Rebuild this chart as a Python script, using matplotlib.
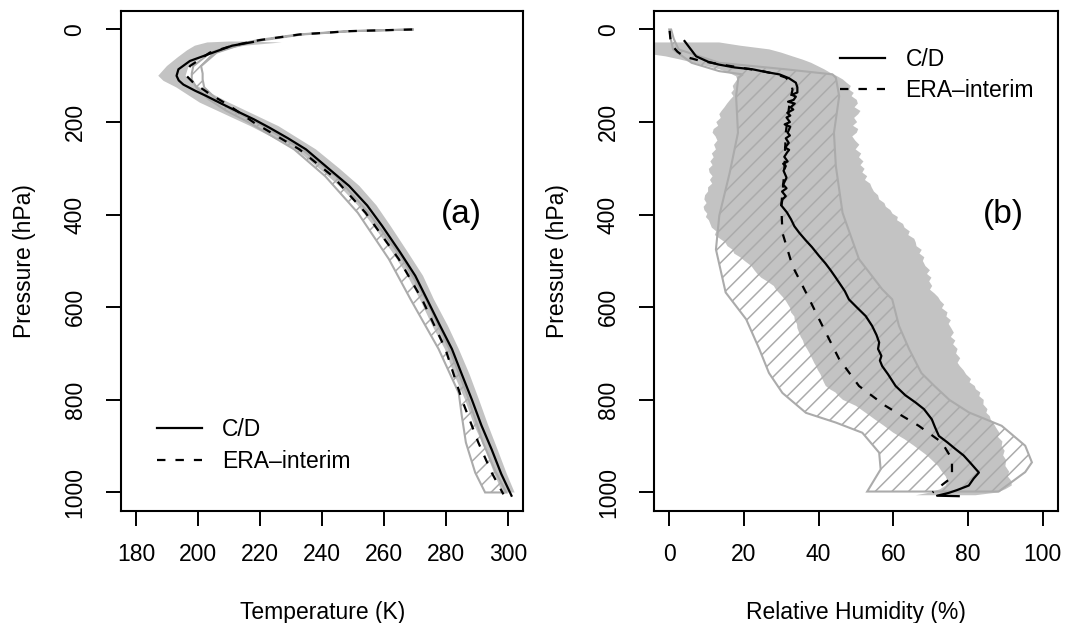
import numpy as np
import matplotlib.pyplot as plt

plt.rcParams.update({"font.family": ["Liberation Sans", "DejaVu Sans"]})
fontSize = 16.5
gray_fill = "#C3C3C3"
gray_line = "#ABABAB"
dash = (0, (3.8, 4.5))

# ---- panel (a): temperature profiles ----
cd_t_p = [27, 35, 47, 58, 68, 86, 100, 110, 119, 132, 144, 160, 176, 194,
          212, 235, 259, 300, 338, 380, 424, 480, 532, 583, 640, 690, 745,
          799, 855, 907, 960, 1007]
cd_t = [217.7, 211, 206, 201.5, 197.4, 193.7, 193.1, 193.8, 195.3, 199,
        202.8, 207.5, 212.4, 218, 223, 229, 234.8, 242, 248.7, 254.5, 259.3,
        265, 270, 273.8, 278, 281.8, 285, 288.2, 291.3, 294.6, 297.7, 301]

era_t_p = [0, 3.6, 10.8, 23, 34.5, 50, 79, 100, 115, 137, 165, 201, 259, 317,
           396, 496, 583, 690, 799, 892, 957, 1004]
era_t = [269, 248.7, 232.7, 219.8, 211.3, 203.8, 197.4, 196.3, 198.5, 203.3,
         210.2, 218, 232.7, 243.4, 254, 264.7, 272.2, 279.7, 285, 290.3,
         294.6, 298.4]

cd_t_band_p = [26, 28, 35, 45, 60, 79, 100, 111, 125, 158, 209, 259, 300,
               338, 380, 424, 480, 532, 583, 640, 690, 745, 799, 855, 907,
               960, 1000]
cd_t_lo = [210, 203, 199, 196.5, 193.5, 190, 187.2, 188.9, 193, 200.6, 217,
           231.5, 239, 245.5, 251.5, 256.5, 262.5, 267.5, 271.5, 275.5,
           279.5, 282.5, 286, 289, 292.5, 295.5, 298]
cd_t_hi = [214, 227, 215, 208, 201.5, 197, 196, 197.5, 200.5, 210, 226, 238,
           245.5, 252, 257.5, 262, 267.5, 272.5, 276, 280.5, 284, 287.5,
           290.5, 293.5, 296.5, 299.5, 302]

era_t_band_p = [0, 3.6, 10.8, 23, 34.5, 50, 79, 95, 108, 125, 151, 175, 201,
                259, 317, 396, 496, 583, 690, 785, 835, 892, 957, 1000]
era_t_lo = [268.5, 248.2, 232.2, 219.3, 211, 204, 198.5, 198, 198, 199.5,
            203.5, 209, 216.5, 231, 241, 251.5, 261.5, 268.5, 277.5, 284, 285,
            286.3, 289.3, 292.5]
era_t_hi = [269.5, 249.5, 233.5, 221, 213, 206, 201, 201.5, 201.5, 202, 206,
            211, 219, 233.5, 244.5, 255, 266, 273.5, 281, 286.5, 289, 291.8,
            296, 299.3]

# ---- panel (b): relative humidity profiles ----
cd_rh_p = [25, 40, 58, 70, 76, 82, 86, 92, 97, 105, 115, 125, 136, 141, 145,
           152, 156, 160, 168, 173, 180, 186, 190, 200, 205, 210, 223, 229,
           235, 245, 255, 260, 265, 275, 285, 290, 295, 305, 320, 335, 343,
           350, 360, 367, 380, 395, 410, 425, 439, 455, 470, 489, 505, 520,
           535, 547, 565, 583, 600, 619, 640, 660, 676, 690, 705, 715, 727,
           745, 770, 790, 806, 820, 842, 860, 878, 892, 906, 920, 935, 957,
           970, 985, 995, 1001, 1007, 1008]
cd_rh = [4.1, 5.5, 7.2, 10.5, 13.4, 17.5, 22.3, 26, 29.5, 32, 33.9, 34.3,
         34.3, 32.8, 33.9, 33.3, 31.8, 33.6, 32.5, 33.2, 31.6, 32.4, 31.4,
         32.3, 30.9, 32.4, 31.7, 32.3, 31.2, 32, 31, 32.1, 31.6, 30.8, 31.7,
         30.5, 31.2, 30.6, 31.4, 30.5, 31.4, 30.2, 31.2, 30.3, 30, 31.5, 32.6,
         33.5, 34.8, 36.5, 38.2, 40.1, 41.8, 43.2, 44.5, 45.5, 47, 48.1, 50.2,
         52.6, 54.3, 55.5, 56.2, 55.9, 56.8, 56.4, 57, 58.6, 60.6, 63.2, 66,
         68.2, 70.3, 71.2, 72.2, 74.5, 76.6, 78.8, 80.5, 82.9, 81.5, 80.2, 77,
         74.8, 71.7, 77.5]

era_rh_p = [3, 20, 36, 48, 58, 67, 75, 83, 90, 97, 104, 115, 130, 166, 223,
            309, 380, 439, 511, 568, 640, 712, 770, 813, 856, 892, 928, 967,
            989, 1000]
era_rh = [0.1, 0.3, 0.9, 2.2, 3.9, 8, 13.4, 19.5, 25, 28.8, 31.2, 32.6, 33,
          32.1, 31.2, 30.8, 30, 30.3, 33, 36.6, 41, 45.5, 50.8, 57.9, 66.8,
          73, 75.7, 75.7, 72.2, 70.5]

# C/D spread in RH: (pressure, RH) pairs along the dry and moist edges
cd_rh_dry_edge = [
    (28, -8), (35, -8), (43, -8), (50, -8), (58, -1), (65, 3), (72, 6.5),
    (80, 10.5), (86, 13.4), (93, 15.8), (101, 17.9), (108, 18.2),
    (115, 17.6), (122, 17.0), (130, 17.3), (137, 16.6), (144, 17.2),
    (152, 16.3), (160, 15.5), (168, 14.8), (176, 14.0), (183, 13.4),
    (191, 13.8), (200, 12.6), (208, 13.1), (215, 11.9), (223, 11.6),
    (231, 12.4), (240, 12.9), (249, 12.0), (259, 12.5), (268, 11.4),
    (276, 11.9), (285, 11.0), (293, 11.6), (301, 10.6), (309, 10.8),
    (317, 11.6), (325, 10.9), (333, 11.5), (341, 10.4), (350, 10.4),
    (358, 9.6), (367, 9.4), (375, 10.0), (383, 9.2), (390, 9.4),
    (398, 10.2), (405, 9.8), (412, 10.6), (420, 11.0), (428, 11.4),
    (436, 12.6), (444, 12.2), (452, 13.6), (460, 15.0), (468, 15.6),
    (476, 17.0), (484, 17.4), (492, 19.0), (500, 20.2), (511, 22.0),
    (520, 22.8), (528, 23.6), (536, 24.6), (544, 26.2), (554, 28.0),
    (562, 28.6), (570, 29.5), (578, 30.4), (586, 31.2), (594, 31.8),
    (602, 32.4), (611, 32.6), (620, 33.5), (628, 33.6), (636, 34.2),
    (645, 34.3), (655, 34.8), (664, 35.2), (672, 35.8), (680, 36.1),
    (690, 36.9), (700, 37.6), (710, 38.2), (720, 38.8), (727, 39.3),
    (736, 39.8), (745, 40.5), (755, 41.0), (762, 41.4), (770, 41.9),
    (777, 43.0), (784, 44.5), (792, 45.4), (800, 46.5), (813, 50.0),
    (828, 52.6), (842, 55.0), (856, 57.5), (871, 60.0), (885, 63.0),
    (899, 65.5), (920, 69.0), (943, 72.0), (955, 73.0), (965, 74.0),
    (975, 74.5), (985, 74.0), (993, 72.5), (1000, 70.0), (1006, 66.0),
]
cd_rh_moist_edge = [
    (28, 13.4), (35, 19), (43, 26.8), (50, 30), (58, 33), (65, 35.7),
    (72, 38), (80, 40), (86, 41.5), (93, 43), (101, 45.0), (108, 46.5),
    (115, 47.5), (122, 48.6), (130, 48.2), (137, 49.4), (144, 48.8),
    (152, 50.2), (160, 50.5), (168, 49.6), (176, 51.2), (183, 50.6),
    (191, 49.5), (200, 50.3), (208, 49.2), (215, 50.6), (223, 50.2),
    (231, 49.0), (240, 49.8), (249, 50.9), (259, 49.9), (268, 51.4),
    (276, 50.8), (285, 52.0), (293, 51.2), (301, 52.3), (309, 51.7),
    (317, 53.0), (325, 52.4), (333, 53.8), (341, 54.2), (350, 54.8),
    (358, 55.9), (367, 56.2), (375, 57.6), (383, 58.0), (390, 59.2),
    (398, 59.8), (405, 61.2), (412, 61.0), (420, 62.6), (428, 63.0),
    (436, 64.4), (444, 64.0), (452, 65.6), (460, 66.0), (468, 66.2),
    (476, 67.6), (484, 67.0), (492, 68.3), (500, 67.9), (511, 68.6),
    (520, 69.8), (528, 69.0), (536, 70.2), (544, 69.6), (554, 70.4),
    (562, 69.8), (570, 71.0), (578, 72.0), (586, 72.6), (594, 73.6),
    (602, 73.0), (611, 74.5), (620, 74.2), (628, 75.4), (636, 74.8),
    (645, 75.5), (655, 76.2), (664, 75.4), (672, 76.6), (680, 76.0),
    (690, 77.2), (700, 76.8), (710, 77.9), (720, 77.2), (727, 77.8),
    (736, 78.8), (745, 79.5), (755, 80.8), (762, 80.4), (770, 81.8),
    (777, 82.1), (784, 83.3), (792, 83.0), (800, 84.2), (810, 84.1),
    (820, 85.2), (828, 84.9), (835, 85.8), (843, 86.1), (850, 86.8),
    (860, 87.5), (871, 88.4), (880, 88.0), (890, 89.2), (900, 89.0),
    (910, 89.8), (920, 89.4), (930, 90.2), (943, 90.0), (955, 91.0),
    (965, 90.6), (975, 91.6), (985, 91.7), (993, 90.0), (1000, 88.0),
    (1006, 82.0),
]

era_rh_lo_p = [0, 20, 43, 72, 90, 97, 104, 144, 223, 309, 402, 475, 568, 626,
               690, 742, 785, 828, 849, 871, 914, 950, 998]
era_rh_lo = [0, 0.4, 1, 6, 13.4, 19.7, 18.5, 17.9, 18.4, 16.2, 13.4, 12.5,
             15.1, 20.6, 24.1, 26.7, 30.3, 36.6, 44.6, 51.7, 56.2, 56.6, 53]
era_rh_hi_p = [0, 20, 43, 72, 86, 97, 104, 144, 223, 295, 396, 496, 561,
               583, 640, 690, 742, 770, 800, 827, 856, 899, 935, 956, 998]
era_rh_hi = [0.5, 1.2, 2.5, 13.4, 31.2, 43.7, 44.6, 45.5, 44.1, 44.6, 46.4,
             50.8, 57, 59.7, 61.5, 64.2, 67.5, 71, 75, 80.2, 89, 95.3, 97.1,
             95.3, 88.2]

pressure_ticks = [0, 200, 400, 600, 800, 1000]


def band_polygon(lo_p, lo_x, hi_p, hi_x):
    xs = list(lo_x) + list(hi_x)[::-1]
    ys = list(lo_p) + list(hi_p)[::-1]
    return xs, ys


def StyleAxes(ax, xticks, xlabel):
    ax.set_ylim(1040, -40)
    ax.set_yticks(pressure_ticks)
    ax.set_xticks(xticks)
    for s in ax.spines.values():
        s.set_linewidth(1.5)
    ax.tick_params(axis="both", direction="out", length=10.8, width=1.4,
                   labelsize=fontSize)
    ax.tick_params(axis="x", pad=12)
    ax.tick_params(axis="y", pad=14)
    for lab in ax.get_yticklabels():
        lab.set_rotation(90)
        lab.set_va("center")
    ax.set_xlabel(xlabel, fontsize=fontSize)
    ax.set_ylabel("Pressure (hPa)", fontsize=fontSize)
    ax.xaxis.set_label_coords(0.5, -0.18)
    ax.yaxis.set_label_coords(-0.211, 0.5)


fig = plt.figure(figsize=(10.66, 6.23), dpi=100)
plt.rcParams["hatch.linewidth"] = 1.1

# panel (a)
ax1 = fig.add_axes([0.1135, 0.1798, 0.3774, 0.8026])
ax1.set_xlim(175.2, 304.8)
xs, ys = band_polygon(cd_t_band_p, cd_t_lo, cd_t_band_p, cd_t_hi)
ax1.fill(xs, ys, color=gray_fill, lw=0)
xs, ys = band_polygon(era_t_band_p, era_t_lo, era_t_band_p, era_t_hi)
ax1.fill(xs, ys, facecolor="none", edgecolor=gray_line, lw=1.5, hatch="//")
ax1.plot(cd_t, cd_t_p, color="black", lw=1.6, label="C/D")
ax1.plot(era_t, era_t_p, color="black", lw=1.6, linestyle=dash,
         label="ERA\u2013interim")
ax1.text(285, 400, "(a)", fontsize=24, ha="center", va="center")
ax1.legend(loc="center left", bbox_to_anchor=(0.0887, 0.131), frameon=False,
           fontsize=fontSize, handlelength=1.96, handletextpad=0.9,
           labelspacing=0.38, borderpad=0, borderaxespad=0)
StyleAxes(ax1, [180, 200, 220, 240, 260, 280, 300], "Temperature (K)")

# panel (b)
ax2 = fig.add_axes([0.6138, 0.1798, 0.3784, 0.8026])
ax2.set_xlim(-4, 104)
dry_p, dry_rh = zip(*cd_rh_dry_edge)
moist_p, moist_rh = zip(*cd_rh_moist_edge)
xs, ys = band_polygon(dry_p, dry_rh, moist_p, moist_rh)
ax2.fill(xs, ys, color=gray_fill, lw=0)
xs, ys = band_polygon(era_rh_lo_p, era_rh_lo, era_rh_hi_p, era_rh_hi)
ax2.fill(xs, ys, facecolor="none", edgecolor=gray_line, lw=1.5, hatch="//")
ax2.plot(cd_rh, cd_rh_p, color="black", lw=1.6, label="C/D")
ax2.plot(era_rh, era_rh_p, color="black", lw=1.6, linestyle=dash,
         label="ERA\u2013interim")
ax2.text(89.5, 400, "(b)", fontsize=24, ha="center", va="center")
ax2.legend(loc="center left", bbox_to_anchor=(0.46, 0.872), frameon=False,
           fontsize=fontSize, handlelength=1.96, handletextpad=0.9,
           labelspacing=0.38, borderpad=0, borderaxespad=0)
StyleAxes(ax2, [0, 20, 40, 60, 80, 100], "Relative Humidity (%)")

fig.savefig("out.png", dpi=100)
